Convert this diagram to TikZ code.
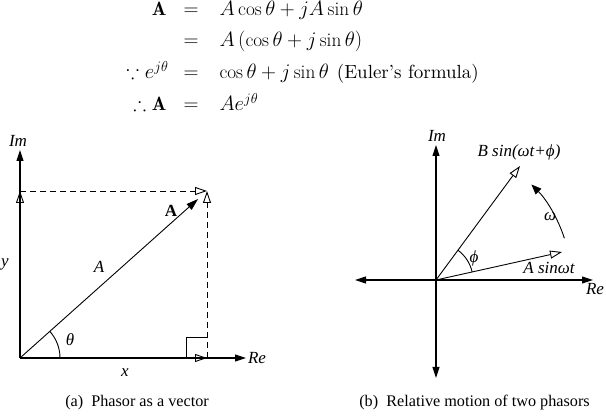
\documentclass[tikz,border=0pt]{standalone}
\usepackage{amsmath,amssymb}
\usepackage{fontspec}
\newfontfamily\tms{Liberation Serif}
\newfontfamily\lmten{lmroman10-regular}[Extension=.otf,Ligatures=TeX]
\usetikzlibrary{arrows.meta}
\begin{document}
\begin{tikzpicture}[x=1pt,y=-1pt,
  line width=1pt,
  ax/.style={line width=1.1pt,-{Triangle[length=11pt,width=7pt]}},
  axb/.style={line width=1.1pt,{Triangle[length=11pt,width=7pt]}-{Triangle[length=11pt,width=7pt]}},
  opn/.style={line width=0.9pt,-{Triangle[open,length=12pt,width=8pt,line width=0.9pt]}},
  vec/.style={line width=0.9pt,-{Triangle[length=12pt,width=7.5pt]}},
  dsh/.style={dash pattern=on 6pt off 4pt},
  eq/.style={inner sep=0pt,font=\fontsize{19.3}{23}\selectfont},
  lab/.style={inner sep=0pt,font=\tms\itshape\fontsize{17}{20}\selectfont},
  captxt/.style={inner sep=0pt,font=\tms\fontsize{16.2}{19}\selectfont}]
\useasboundingbox (0,0) rectangle (606,419);
% equations
\node[eq,anchor=base east] (l1) at (167,16) {$\mathbf{A}$};
\node[eq,anchor=base] (e1) at (191,16) {$=$};
\node[eq,anchor=base west] (r1) at (219,16) {$A\cos\theta+jA\sin\theta$};
\node[eq,anchor=base] (e2) at (191,47) {$=$};
\node[eq,anchor=base west] (r2) at (219,47) {$A\left(\cos\theta+j\sin\theta\right)$};
\node[eq,anchor=base east] (l3) at (169,79) {$\because e^{j\theta}$};
\node[eq,anchor=base] (e3) at (191,79) {$=$};
\node[eq,anchor=base west] (r3) at (219,79) {$\cos\theta+j\sin\theta$\hspace{8pt}{\lmten\fontsize{19}{22}\selectfont(Euler’s formula)}};
\node[eq,anchor=base east] (l4) at (167,111) {$\therefore\mathbf{A}$};
\node[eq,anchor=base] (e4) at (191,111) {$=$};
\node[eq,anchor=base west] (r4) at (219,111) {$Ae^{j\theta}$};
% left diagram
\coordinate (O) at (20,358);
\coordinate (P) at (207,191);
\coordinate (X) at (207,358);
\coordinate (Y) at (20,191);
\coordinate (ImT) at (20,150);
\coordinate (ReT) at (246,358);
\coordinate (S1) at (186,358);
\coordinate (S2) at (186,337);
\coordinate (S3) at (207,337);
\draw[ax] (O) -- (ImT);
\draw[ax] (O) -- (ReT);
\draw[opn] (O) -- (X);
\draw[opn] (O) -- (Y);
\draw[opn,dsh] (Y) -- (P);
\draw[opn,dsh] (X) -- (P);
\draw[vec,shorten >=12pt] (O) -- (P);
\draw[line width=0.9pt] (S1) -- (S2) -- (S3);
\draw[line width=0.9pt] (O) ++(0:40) arc[start angle=0,end angle=-41.8,radius=40];
\node[lab] (lIm) at (18,141) {Im};
\node[lab] (lRe) at (257,358) {Re};
\node[lab] (ly) at (5,264) {y};
\node[lab] (lA) at (99,267) {A};
\node[inner sep=0pt,font=\tms\bfseries\fontsize{17}{20}\selectfont] (lAb) at (171,211) {A};
\node[lab] (lx) at (125,373) {x};
\node[lab] (lth) at (70,340) {θ};
\node[captxt] (capa) at (137,403) {(a)\hspace{0.5em}Phasor as a vector};
% right diagram
\coordinate (Q) at (436,280);
\coordinate (ReR) at (593,280);
\coordinate (ReL) at (355,280);
\coordinate (ImU) at (436,145);
\coordinate (ImD) at (436,378);
\coordinate (Bt) at (520,166);
\coordinate (At) at (562,252);
\draw[axb] (ReL) -- (ReR);
\draw[axb] (ImD) -- (ImU);
\draw[opn] (Q) -- (Bt);
\draw[opn] (Q) -- (At);
\draw[line width=0.9pt] (Q) ++(-12.5:37) arc[start angle=-12.5,end angle=-53.6,radius=37];
\draw[line width=0.9pt,-{Triangle[length=10pt,width=8pt]}] (Q) ++(-18:135) arc[start angle=-18,end angle=-45,radius=135];
\node[lab] (rIm) at (437,136) {Im};
\node[lab] (rRe) at (595,289) {Re};
\node[lab] (lB) at (519,152) {B sin(ωt+ϕ)};
\node[lab] (lAs) at (549,268) {A sinωt};
\node[lab] (lw) at (550,217) {ω};
\node[lab] (lphi) at (474,258) {ϕ};
\node[captxt] (capb) at (474.5,403) {(b)\hspace{0.5em}Relative motion of two phasors};
\end{tikzpicture}
\end{document}
